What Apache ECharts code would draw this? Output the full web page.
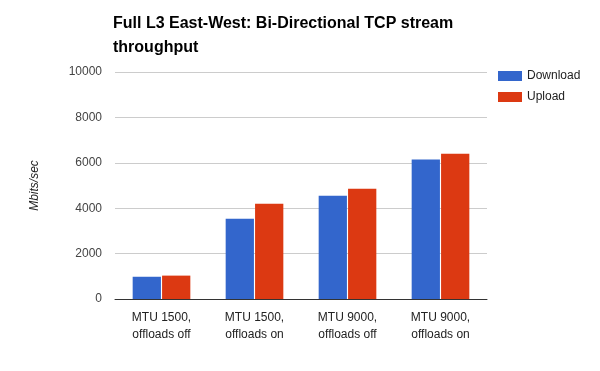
<!DOCTYPE html>
<html><head><meta charset="utf-8">
<script src="https://cdn.jsdelivr.net/npm/echarts@6/dist/echarts.min.js"></script>
<style>html,body{margin:0;padding:0;background:#fff}#c{width:600px;height:371px}</style>
</head><body><div id="c"></div>
<script>
const categories = ["MTU 1500,\noffloads off", "MTU 1500,\noffloads on", "MTU 9000,\noffloads off", "MTU 9000,\noffloads on"];
const download = [980, 3540, 4550, 6140];
const upload = [1030, 4200, 4860, 6400];
const yTicks = [0, 2000, 4000, 6000, 8000, 10000];

const chart = echarts.init(document.getElementById('c'), null, {renderer: 'canvas'});
chart.setOption({
  animation: false,
  backgroundColor: '#fff',
  title: {
    text: 'Full L3 East-West: Bi-Directional TCP stream\nthroughput',
    left: 113, top: 12, padding: 0,
    textStyle: {fontFamily: 'Liberation Sans, Arial', fontSize: 16, fontWeight: 'bold', color: '#000', lineHeight: 24}
  },
  legend: {
    orient: 'vertical', left: 498, top: 70, padding: 0, itemWidth: 24, itemHeight: 10, itemGap: 9,
    icon: 'rect',
    textStyle: {fontFamily: 'Liberation Sans, Arial', fontSize: 12, color: '#222'},
    data: ['Download', 'Upload']
  },
  grid: {left: 115, right: 113, top: 72, bottom: 72, containLabel: false},
  xAxis: {
    type: 'category', data: categories,
    axisLine: {lineStyle: {color: '#333', width: 1}},
    axisTick: {show: false},
    axisLabel: {fontFamily: 'Liberation Sans, Arial', fontSize: 12, color: '#222', lineHeight: 17, margin: 10}
  },
  yAxis: {
    type: 'value', min: yTicks[0], max: yTicks[yTicks.length-1], interval: 2000,
    name: 'Mbits/sec', nameLocation: 'middle', nameGap: 74,
    nameTextStyle: {fontFamily: 'Liberation Sans, Arial', fontSize: 12, fontStyle: 'italic', color: '#222'},
    axisLine: {show: false}, axisTick: {show: false},
    splitLine: {lineStyle: {color: '#ccc', width: 1}},
    axisLabel: {fontFamily: 'Liberation Sans, Arial', fontSize: 12, color: '#444', margin: 13, formatter: v => String(v)}
  },
  series: [
    {name: 'Download', type: 'bar', data: download, itemStyle: {color: '#3366cc'}, barGap: '4%', barCategoryGap: '38%'},
    {name: 'Upload', type: 'bar', data: upload, itemStyle: {color: '#dc3912'}}
  ]
});
</script></body></html>
